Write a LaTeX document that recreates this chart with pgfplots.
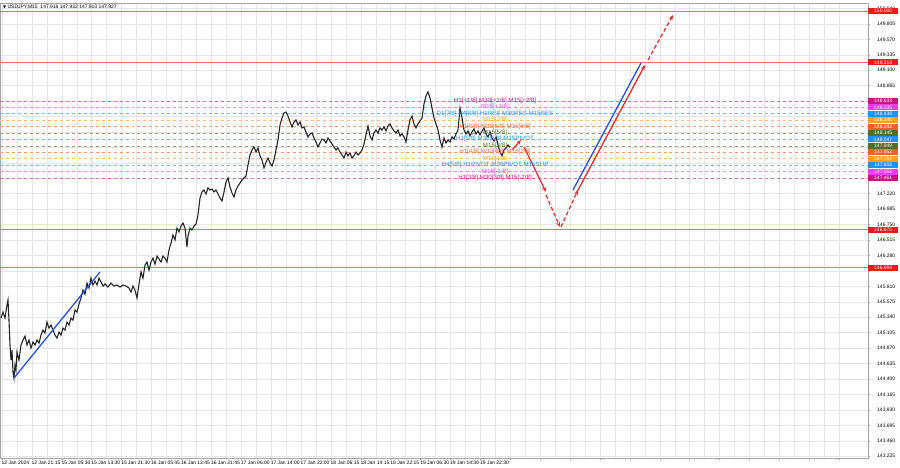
\documentclass[border=0pt]{standalone}
\usepackage{fontspec}
\setmainfont{Liberation Sans}
\newfontfamily\sym{DejaVu Sans}
\usepackage{pgfplots}
\pgfplotsset{compat=1.18}
\usetikzlibrary{arrows.meta}
\definecolor{lvP}{HTML}{C71585}
\definecolor{lvM}{HTML}{EE3BEE}
\definecolor{lvB}{HTML}{1E90FF}
\definecolor{lvO}{HTML}{FFA020}
\definecolor{lvR}{HTML}{F4602A}
\definecolor{lvG}{HTML}{556B2F}
\definecolor{hl}{HTML}{FF6A6A}
\definecolor{hlbg}{HTML}{F01818}
\definecolor{fr}{HTML}{F02828}
\definecolor{fb}{HTML}{2050F0}
\definecolor{gridc}{HTML}{E6E6E6}
\newcommand{\lvl}[2]{\addplot[color=#2!65,dashed,line width=0.55bp,forget plot] coordinates {(0,#1) (868,#1)};}
\newcommand{\rl}[3]{\node[fill=#2,text=white,anchor=west,inner sep=0pt,minimum width=30bp,minimum height=6bp,font=\fontsize{5}{5}\selectfont] at (axis cs:868,#1) {#3};}
\newcommand{\ml}[3]{\node[text=#2,anchor=center,inner sep=0pt,font=\fontsize{6.2}{6.2}\selectfont] at (axis cs:495,#1) {#3};}
\begin{document}
\begin{tikzpicture}
\begin{axis}[
  scale only axis, width=868bp, height=455bp,
  xmin=0, xmax=868, ymin=143.198, ymax=150.123,
  clip=false,
  axis line style={gray!70, line width=0.6bp},
  tick style={gray!70, line width=0.5bp},
  tick align=outside, major tick length=2bp, minor tick length=0pt,
  xtick={2,31.9,61.8,91.7,121.6,151.5,181.4,211.3,241.2,271.1,301,330.9,360.8,390.7,420.6,450.5,480.4,510.3,540.2,570.1,600,629.9,659.8,689.7,719.6,749.5,779.4,809.3,839.2},
  xticklabels={12 Jan 2024,12 Jan 21:15,15 Jan 05:30,15 Jan 13:30,15 Jan 21:30,16 Jan 05:45,16 Jan 13:45,16 Jan 21:45,17 Jan 06:00,17 Jan 14:00,17 Jan 22:00,18 Jan 06:15,18 Jan 14:15,18 Jan 22:15,19 Jan 06:30,19 Jan 14:30,19 Jan 22:30,,,,,,,,,,,,},
  minor x tick num=1,
  xticklabel style={anchor=north west, inner sep=1bp, xshift=-1.5bp, font=\fontsize{5}{5}\selectfont},
  ytick={143.225,143.460,143.695,143.930,144.165,144.400,144.635,144.870,145.105,145.340,145.575,145.810,146.045,146.280,146.515,146.750,146.985,147.220,147.455,147.690,147.925,148.160,148.395,148.630,148.865,149.100,149.335,149.570,149.805,150.040},
  yticklabels={143.225,143.460,143.695,143.930,144.165,144.400,144.635,144.870,145.105,145.340,145.575,145.810,,146.280,146.515,146.750,146.985,147.220,,,,,,,148.865,149.100,149.335,149.570,149.805,150.040},
  yticklabel pos=right,
  yticklabel style={anchor=west, inner sep=1bp, xshift=6bp, font=\fontsize{5}{5}\selectfont},
  ytick pos=right, xtick pos=bottom,
  grid=both,
  major grid style={gridc, line width=0.5bp},
  minor grid style={gridc, line width=0.5bp},
]
% Murrey-type levels
\lvl{148.633}{lvP}\lvl{148.535}{lvM}\lvl{148.438}{lvB}\lvl{148.340}{lvO}\lvl{148.242}{lvR}\lvl{148.145}{lvG}\lvl{148.047}{lvB}
\lvl{147.949}{lvG}\lvl{147.852}{lvR}\lvl{147.754}{lvO}\lvl{147.656}{lvB}\lvl{147.558}{lvM}\lvl{147.461}{lvP}
% red horizontal levels
\addplot[color=hl,line width=1bp] coordinates {(0,150.000) (868,150.000)};
\addplot[color=hl,line width=1bp] coordinates {(0,149.219) (868,149.219)};
\addplot[color=hl,line width=1bp] coordinates {(0,146.675) (868,146.675)};
\addplot[color=hl,line width=1bp] coordinates {(0,146.094) (868,146.094)};
% price
\addplot[black!85,line width=1.1bp] coordinates {
(1,145.329)(3,145.420)(5,145.329)(7,145.526)(8,145.602)(9,145.298)(10,144.917)(11,144.689)(12,144.841)(13,144.506)(14,144.415)(15,144.613)(16,144.537)(17,144.811)(19,144.689)(21,144.917)(23,144.993)(25,145.054)(27,144.917)(29,144.993)(31,144.872)(33,144.963)(35,144.917)(37,144.993)(39,144.948)(41,145.069)(43,145.145)(45,145.100)(47,145.267)(49,145.176)(51,145.222)(53,145.145)(55,145.069)(57,145.024)(59,145.115)(61,145.069)(63,145.176)(65,145.145)(67,145.267)(69,145.222)(71,145.328)(73,145.298)(75,145.450)(77,145.419)(79,145.541)(81,145.632)(83,145.754)(85,145.693)(87,145.861)(89,145.785)(91,145.937)(93,145.831)(95,145.892)(97,145.831)(99,145.937)(101,145.876)(103,145.815)(105,145.846)(108,145.800)(111,145.861)(114,145.815)(117,145.831)(120,145.800)(123,145.831)(126,145.815)(129,145.785)(131,145.724)(133,145.815)(135,145.754)(137,145.632)(139,145.846)(141,146.029)(143,145.937)(145,146.135)(147,146.181)(149,146.059)(151,146.181)(153,146.241)(155,146.150)(157,146.272)(159,146.226)(161,146.181)(163,146.272)(165,146.241)(167,146.181)(169,146.363)(171,146.470)(173,146.592)(175,146.516)(177,146.698)(179,146.638)(181,146.729)(183,146.774)(185,146.698)(187,146.409)(188,146.577)(190,146.698)(192,146.668)(194,146.729)(196,146.759)(198,146.896)(200,147.155)(202,147.247)(204,147.277)(206,147.216)(208,147.308)(210,147.277)(212,147.292)(214,147.247)(216,147.277)(218,147.216)(220,147.155)(222,147.110)(224,147.247)(226,147.399)(228,147.460)(230,147.323)(232,147.231)(234,147.171)(236,147.277)(238,147.338)(240,147.384)(242,147.429)(244,147.460)(246,147.490)(248,147.658)(250,147.810)(252,147.886)(254,147.932)(256,147.855)(258,147.916)(260,147.795)(262,147.734)(264,147.612)(266,147.703)(268,147.764)(270,147.688)(272,147.642)(274,147.734)(276,147.886)(278,148.038)(280,148.266)(282,148.373)(284,148.449)(286,148.464)(288,148.403)(290,148.312)(292,148.236)(294,148.312)(296,148.343)(298,148.266)(300,148.312)(302,148.221)(304,148.236)(306,148.160)(308,148.084)(310,148.130)(312,148.145)(314,148.069)(316,148.008)(318,147.932)(320,147.993)(322,148.053)(324,148.038)(326,147.993)(328,148.069)(330,148.023)(332,147.977)(334,147.932)(336,147.886)(338,147.916)(340,147.855)(342,147.810)(344,147.764)(346,147.855)(348,147.795)(350,147.840)(352,147.764)(354,147.795)(356,147.855)(358,147.810)(360,147.840)(362,147.886)(364,147.977)(366,148.114)(368,148.251)(370,148.099)(372,148.038)(374,148.145)(376,148.190)(378,148.145)(380,148.221)(382,148.190)(384,148.236)(386,148.175)(388,148.251)(390,148.282)(392,148.221)(394,148.175)(396,148.145)(398,148.190)(400,148.099)(402,148.130)(404,148.084)(406,148.008)(408,148.190)(410,148.343)(412,148.403)(414,148.282)(416,148.221)(418,148.282)(420,148.327)(422,148.373)(424,148.586)(426,148.708)(428,148.769)(430,148.677)(432,148.525)(434,148.373)(436,148.282)(438,148.190)(440,148.038)(442,147.932)(444,148.069)(446,147.993)(448,148.038)(450,148.008)(452,148.084)(454,148.053)(456,148.130)(458,148.190)(460,148.525)(462,148.373)(464,148.190)(466,148.130)(468,148.175)(470,148.099)(472,148.160)(474,148.206)(476,148.130)(478,148.175)(480,148.114)(482,148.175)(484,148.221)(486,148.130)(488,148.084)(490,148.160)(492,148.069)(494,148.023)(496,148.084)(498,147.962)(500,147.855)(502,147.795)(504,147.886)(506,147.916)(508,147.962)(510,147.927)};
% trend line (left)
\addplot[fb,line width=1.3bp] coordinates {(14,144.415) (100,146.029)};
% forecast
\addplot[fr,line width=1.2bp,-{Stealth[length=5bp,width=4bp]}] coordinates {(512,147.886) (521,148.038)};
\addplot[fr,line width=1.2bp,-{Stealth[length=5bp,width=4bp]}] coordinates {(524,147.932) (546,147.247)};
\addplot[fr,line width=1.2bp,dash pattern=on 4bp off 2.5bp,-{Stealth[length=5bp,width=4bp]}] coordinates {(546,147.201) (560,146.714)};
\addplot[fr,line width=1.2bp,dash pattern=on 4bp off 2.5bp,-{Stealth[length=5bp,width=4bp]}] coordinates {(561,146.714) (578,147.277)};
\addplot[fb,line width=1.3bp] coordinates {(573,147.277) (641,149.210)};
\addplot[fr,line width=1.3bp,-{Stealth[length=5bp,width=4bp]}] coordinates {(577,147.247) (645,149.180)};
\addplot[fr,line width=1.2bp,dash pattern=on 4bp off 2.5bp,-{Stealth[length=5bp,width=4bp]}] coordinates {(648,149.256) (673,149.941)};
% middle labels
\ml{148.633}{lvP}{H1[+1/8] M30[+1/8] M15[+2/8]}
\ml{148.535}{lvM}{M15[+1/8]}
\ml{148.438}{lvB}{D1[7/8] H4[8/8] H1RES M30RES M15RES}
\ml{148.340}{lvO}{M15[7/8]}
\ml{148.242}{lvR}{H1[6/8] M30[6/8] M15[6/8]}
\ml{148.145}{lvG}{M15[5/8]}
\ml{148.047}{lvB}{H1[5/8] M30[5/8] M15PIVOT}
\ml{147.949}{lvG}{M15[3/8]}
\ml{147.852}{lvR}{H1[4/8] M30[4/8] M15[2/8]}
\ml{147.754}{lvO}{M15[1/8]}
\ml{147.656}{lvB}{H4[5/8] H1PIVOT M30PIVOT M15SUP}
\ml{147.558}{lvM}{M15[-1/8]}
\ml{147.461}{lvP}{H1[3/8] M30[3/8] M15[-2/8]}
% right labels
\rl{148.633}{lvP}{148.633}\rl{148.535}{lvM}{148.535}\rl{148.438}{lvB}{148.438}\rl{148.340}{lvO}{148.340}\rl{148.242}{lvR}{148.242}\rl{148.145}{lvG}{148.145}\rl{148.047}{lvB}{148.047}
\rl{147.949}{lvG}{147.949}\rl{147.852}{lvR}{147.852}\rl{147.754}{lvO}{147.754}\rl{147.656}{lvB}{147.656}\rl{147.558}{lvM}{147.558}\rl{147.461}{lvP}{147.461}
\rl{150.000}{hlbg}{150.000}\rl{149.219}{hlbg}{149.219}\rl{146.675}{hlbg}{146.675}\rl{146.094}{hlbg}{146.094}
% title
\node[anchor=west,inner sep=0pt,font=\fontsize{5}{5}\selectfont] at (axis cs:3,150.06) {{\sym\fontsize{4}{4}\selectfont ▼}\ USDJPY,M15\ \ 147.918 147.932 147.910 147.927};
\end{axis}
\pgfresetboundingbox
\path[use as bounding box] ([yshift=-10bp]current axis.south west) rectangle ([xshift=32bp,yshift=3bp]current axis.north east);
\end{tikzpicture}
\end{document}
